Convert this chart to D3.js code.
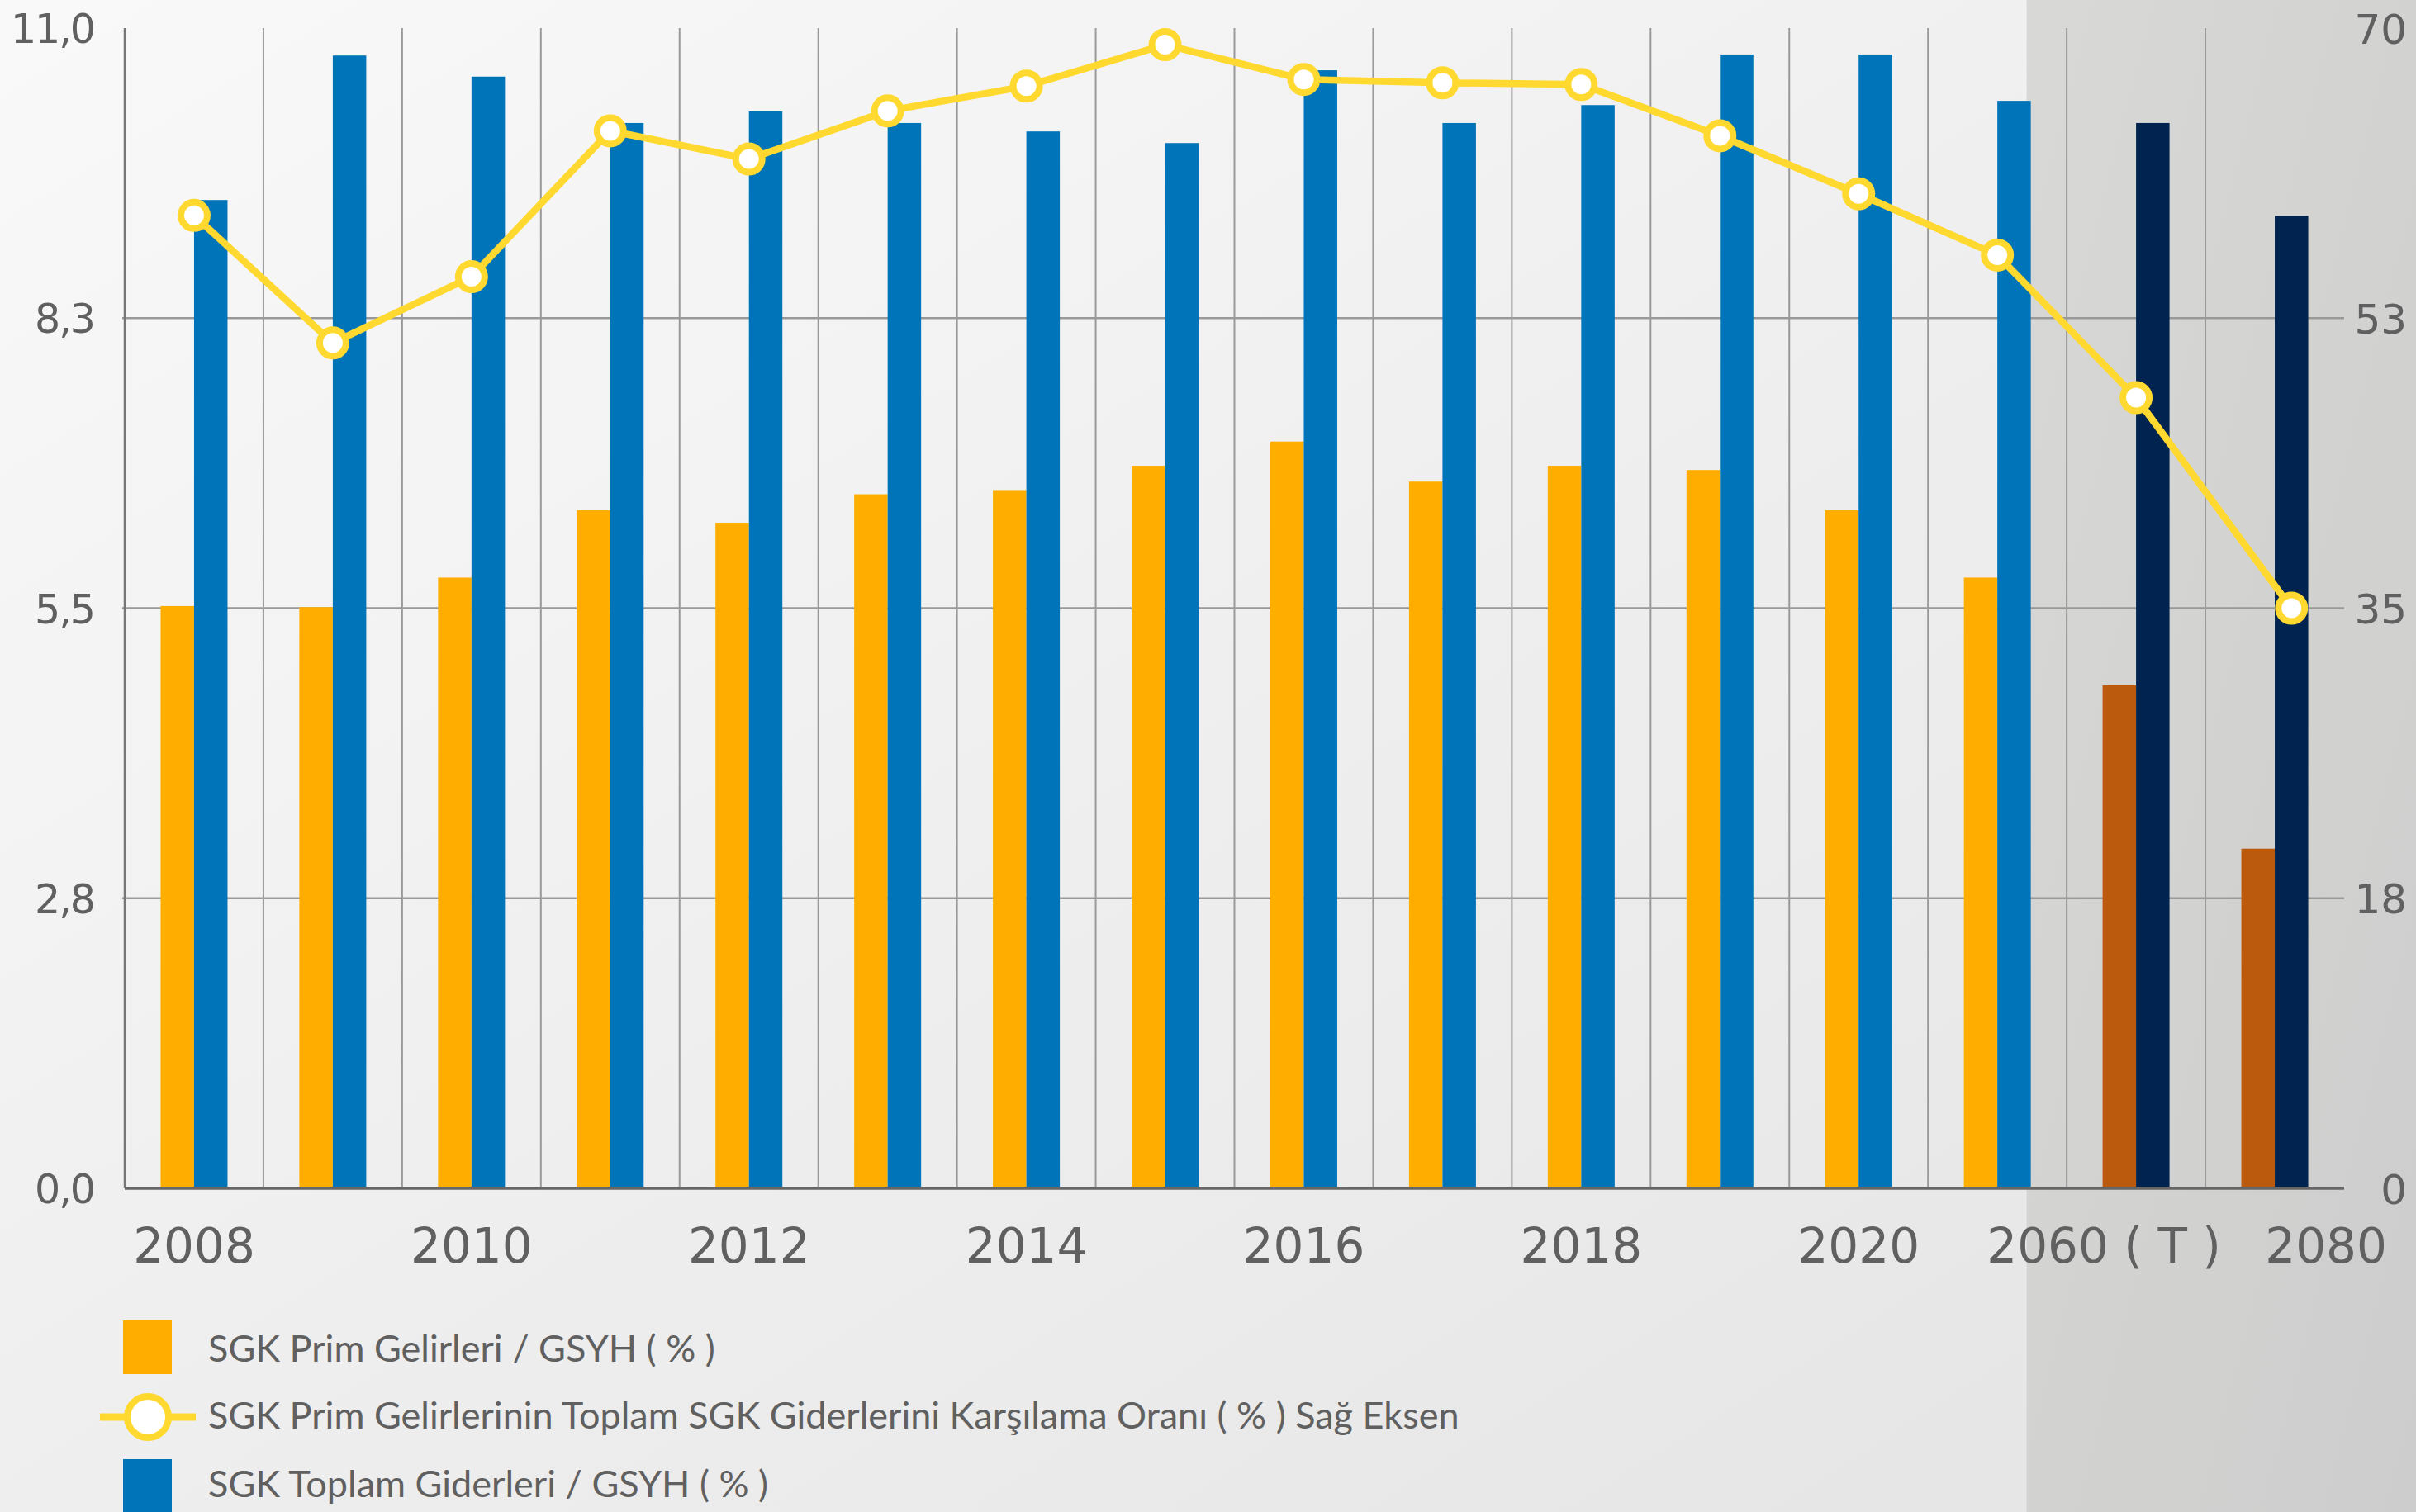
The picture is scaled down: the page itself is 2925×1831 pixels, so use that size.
<!DOCTYPE html>
<html>
<head>
<meta charset="utf-8">
<script src="https://cdn.jsdelivr.net/npm/d3@7"></script>
<style>
  body { margin: 0; padding: 0; background: #eeeeee; }
  svg { display: block; }
</style>
</head>
<body>
<svg id="vis"></svg>
<script>
// data
const years = ["2008","2009","2010","2011","2012","2013","2014","2015","2016","2017","2018","2019","2020","2021","2060","2080"];
const xTickLabels = ["2008","","2010","","2012","","2014","","2016","","2018","","2020","","2060 ( T )","2080"];
const projYears = ["2060","2080"];

// SGK Prim Gelirleri / GSYH (%)
const primGelir = [5.52, 5.51, 5.79, 6.43, 6.31, 6.58, 6.62, 6.85, 7.08, 6.70, 6.85, 6.81, 6.43, 5.79, 4.77, 3.22];
// SGK Toplam Giderleri / GSYH (%)
const toplamGider = [9.37, 10.74, 10.54, 10.10, 10.21, 10.10, 10.02, 9.91, 10.60, 10.10, 10.27, 10.75, 10.75, 10.31, 10.10, 9.22];
// Karsilama orani (%) - sag eksen
const karsilama = [58.7, 51.0, 55.0, 63.8, 62.1, 65.0, 66.5, 69.0, 66.9, 66.7, 66.6, 63.5, 60.0, 56.3, 47.7, 35.0];

const leftTicks = [0, 2.75, 5.5, 8.25, 11];
const rightTicks = [0, 17.5, 35, 52.5, 70];

const legendLabels = [
    "SGK Prim Gelirleri / GSYH ( % )",
    "SGK Prim Gelirlerinin Toplam SGK Giderlerini Karşılama Oranı ( % ) Sağ Eksen",
    "SGK Toplam Giderleri / GSYH ( % )"
];

// colours
const cOrange = "#ffae00", cBlue = "#0074b8";
const cBrown = "#bb5a0c", cNavy = "#002350";
const cLine = "#ffd92f";
const cText = "#606060";

var W = 2925, H = 1831;
var margin = {top: 34, left: 151, right: W - 2838, bottom: H - 1439};

var svg = d3.select("#vis").attr("width", W).attr("height", H);

// background
var defs = svg.append("defs");
var bg = defs.append("linearGradient").attr("id", "bg")
    .attr("x1", "0%").attr("y1", "0%").attr("x2", "100%").attr("y2", "100%");
bg.append("stop").attr("offset", "0%").attr("stop-color", "#f9f9f9");
bg.append("stop").attr("offset", "100%").attr("stop-color", "#e4e4e4");
var bg2 = defs.append("linearGradient").attr("id", "bg2")
    .attr("x1", "0%").attr("y1", "0%").attr("x2", "100%").attr("y2", "100%");
bg2.append("stop").attr("offset", "0%").attr("stop-color", "#d8d8d6");
bg2.append("stop").attr("offset", "100%").attr("stop-color", "#cdcdcd");

svg.append("rect").attr("width", W).attr("height", H).attr("fill", "url(#bg)");

// scales
var x = d3.scaleBand().domain(years).range([margin.left, W - margin.right]).padding(0);
var bw = x.bandwidth();
var barW = 40.5;
var xs = d3.scaleBand().domain(["gelir", "gider"]).range([bw/2 - barW, bw/2 + barW]);
var y = d3.scaleLinear().domain([0, 11]).range([H - margin.bottom, margin.top]);
var y2 = d3.scaleLinear().domain([0, 70]).range([H - margin.bottom, margin.top]);

// projection shade
var shadeX = x("2021") + bw/2 + barW - 5;
svg.append("rect")
    .attr("x", shadeX).attr("y", 0)
    .attr("width", W - shadeX).attr("height", H)
    .attr("fill", "url(#bg2)");

// grid
var grid = svg.append("g");
grid.selectAll(".hgrid")
    .data(leftTicks.filter(d => d > 0 && d < 11))
    .enter().append("line")
    .attr("x1", margin.left - 3).attr("x2", W - margin.right)
    .attr("y1", d => y(d)).attr("y2", d => y(d))
    .attr("stroke", "#999").attr("stroke-width", 2.5);
grid.selectAll(".vgrid")
    .data(years.slice(1))
    .enter().append("line")
    .attr("x1", d => x(d)).attr("x2", d => x(d))
    .attr("y1", y(11)).attr("y2", y(0))
    .attr("stroke", "#999").attr("stroke-width", 2);
// left axis line
grid.append("line")
    .attr("x1", margin.left).attr("x2", margin.left)
    .attr("y1", y(11)).attr("y2", y(0))
    .attr("stroke", "#777").attr("stroke-width", 2.5);

// bars
var groups = svg.selectAll(".grp")
    .data(years)
    .enter().append("g")
    .attr("transform", d => "translate(" + x(d) + ",0)");

groups.append("rect")
    .attr("x", xs("gelir"))
    .attr("width", xs.bandwidth())
    .attr("y", (d, i) => y(primGelir[i]))
    .attr("height", (d, i) => y(0) - y(primGelir[i]))
    .attr("fill", d => projYears.includes(d) ? cBrown : cOrange);

groups.append("rect")
    .attr("x", xs("gider"))
    .attr("width", xs.bandwidth())
    .attr("y", (d, i) => y(toplamGider[i]))
    .attr("height", (d, i) => y(0) - y(toplamGider[i]))
    .attr("fill", d => projYears.includes(d) ? cNavy : cBlue);

// baseline
svg.append("line")
    .attr("x1", margin.left).attr("x2", W - margin.right)
    .attr("y1", y(0)).attr("y2", y(0))
    .attr("stroke", "#666").attr("stroke-width", 3.5);

// line + markers (right axis)
// the last point sits on the centre of its navy bar
var px = (d, i) => x(years[i]) + bw/2 + (i === years.length - 1 ? barW/2 : 0);
var line = d3.line()
    .x(px)
    .y(d => y2(d));
svg.append("path")
    .datum(karsilama)
    .attr("d", line)
    .attr("fill", "none")
    .attr("stroke", cLine)
    .attr("stroke-width", 8.5)
    .attr("stroke-linejoin", "round");

svg.selectAll(".dot")
    .data(karsilama)
    .enter().append("circle")
    .attr("cx", px)
    .attr("cy", d => y2(d))
    .attr("r", 16)
    .attr("fill", "#fff")
    .attr("stroke", cLine)
    .attr("stroke-width", 8);

// axes
var fmtL = d => d3.format(".1f")(d).replace(".", ",");
var fmtR = d3.format(".0f");

var axL = svg.append("g")
    .attr("transform", "translate(" + margin.left + ",0)")
    .call(d3.axisLeft(y).tickValues(leftTicks).tickFormat(fmtL).tickSize(0).tickPadding(37));
var axR = svg.append("g")
    .attr("transform", "translate(" + (W - margin.right) + ",0)")
    .call(d3.axisRight(y2).tickValues(rightTicks).tickFormat(fmtR).tickSize(0));
axR.selectAll("text").attr("x", 76).attr("text-anchor", "end");

var axB = svg.append("g")
    .attr("transform", "translate(0," + y(0) + ")")
    .call(d3.axisBottom(x).tickFormat((d, i) => xTickLabels[i]).tickSize(0));
axB.selectAll("text")
    .attr("y", 90).attr("dy", 0)
    .attr("x", d => d === "2060" ? -39 : (d === "2080" ? 62 : 0))
    .style("font-size", "58px");

[axL, axR, axB].forEach(a => {
    a.select(".domain").remove();
    a.selectAll("text")
        .style("font-family", "'DejaVu Sans', sans-serif")
        .attr("fill", cText);
});
axL.selectAll("text").style("font-size", "49px").style("letter-spacing", "-2px").attr("dy", "0.36em");
axR.selectAll("text").style("font-size", "50px").attr("dy", "0.36em");

// legend
var lg = svg.append("g").attr("font-family", "Lato, sans-serif").attr("fill", cText);
lg.append("rect").attr("x", 149).attr("y", 1599).attr("width", 59).attr("height", 65).attr("fill", cOrange);
lg.append("line").attr("x1", 121).attr("x2", 237).attr("y1", 1716).attr("y2", 1716)
    .attr("stroke", cLine).attr("stroke-width", 9);
lg.append("circle").attr("cx", 179).attr("cy", 1716).attr("r", 25)
    .attr("fill", "#fff").attr("stroke", cLine).attr("stroke-width", 8);
lg.append("rect").attr("x", 149).attr("y", 1767).attr("width", 59).attr("height", 70).attr("fill", cBlue);

lg.selectAll(".ltxt")
    .data(legendLabels)
    .enter().append("text")
    .attr("x", 252)
    .attr("y", (d, i) => [1649, 1730, 1813][i])
    .style("font-size", "45px")
    .text(d => d);
</script>
</body>
</html>
